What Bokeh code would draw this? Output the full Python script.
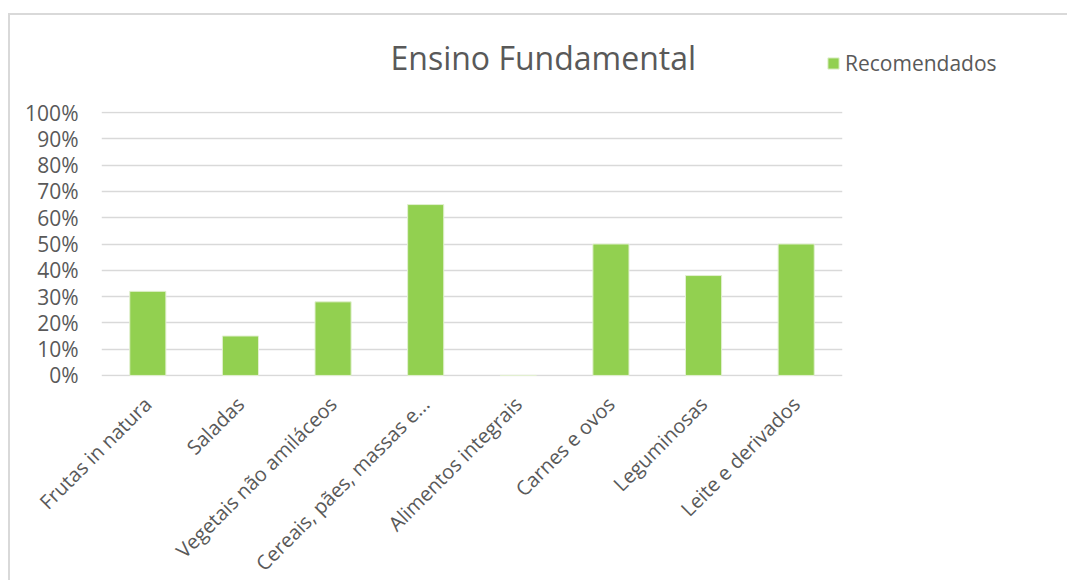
from math import pi
from bokeh.plotting import figure
from bokeh.models import (Range1d, FixedTicker, NumeralTickFormatter, Legend,
                          LegendItem, ColumnDataSource)
from bokeh.embed import file_html
from bokeh.resources import INLINE

categories = ["Frutas in natura", "Saladas", "Vegetais não amiláceos",
              "Cereais, pães, massas e...", "Alimentos integrais", "Carnes e ovos",
              "Leguminosas", "Leite e derivados"]
recomendados = [0.32, 0.15, 0.28, 0.65, 0.0, 0.50, 0.38, 0.50]
y_ticks = [0.0, 0.1, 0.2, 0.3, 0.4, 0.5, 0.6, 0.7, 0.8, 0.9, 1.0]
title_text = "Ensino Fundamental"
series_name = "Recomendados"

GREEN = "#92D050"
TEXT = "#595959"
GRID = "#D9D9D9"
FONT = "Open Sans"

src = ColumnDataSource(dict(cat=categories, val=recomendados))

p = figure(frame_width=741, frame_height=265, x_range=categories,
           y_range=Range1d(-0.004, 1.004), output_backend="svg",
           toolbar_location=None, min_border_left=101, min_border_right=217,
           min_border_top=111, min_border_bottom=196)
p.outline_line_color = None
p.background_fill_color = "white"
p.border_fill_color = None
p.styles = {
    "background-color": "white",
    "box-shadow": ("inset 0 13px 0 0 white, inset 8px 0 0 0 white, "
                   "inset 0 15px 0 0 #D9D9D9, inset 10px 0 0 0 #D9D9D9"),
}

r = p.vbar(x="cat", top="val", width=0.39, source=src, fill_color=GREEN,
           line_color="#E2F0D0", line_width=1)

p.xgrid.grid_line_color = None
p.ygrid.grid_line_color = GRID
p.ygrid.grid_line_width = 1.5
p.ygrid.ticker = FixedTicker(ticks=y_ticks)

p.yaxis.ticker = FixedTicker(ticks=y_ticks)
p.yaxis.formatter = NumeralTickFormatter(format="0%")
p.yaxis.axis_line_color = None
p.yaxis.major_tick_line_color = None
p.yaxis.minor_tick_line_color = None
p.yaxis.major_tick_out = 0
p.yaxis.major_label_text_font = FONT
p.yaxis.major_label_text_font_size = "21px"
p.yaxis.major_label_text_color = TEXT
p.yaxis.major_label_standoff = 23

p.xaxis.axis_line_color = None
p.xaxis.major_tick_line_color = None
p.xaxis.major_tick_out = 0
p.xaxis.major_label_orientation = pi / 4
p.xaxis.major_label_text_font = FONT
p.xaxis.major_label_text_font_size = "20px"
p.xaxis.major_label_text_color = TEXT
p.xaxis.major_label_standoff = 24

p.title.text = title_text
p.title.align = "left"
p.title.offset = 289
p.title.standoff = 66
p.title.text_font = FONT
p.title.text_font_size = "32px"
p.title.text_font_style = "normal"
p.title.text_color = TEXT

legend = Legend(items=[LegendItem(label=series_name, renderers=[r])],
                location=(-16, 299), orientation="vertical",
                label_text_font=FONT, label_text_font_size="21px",
                label_text_color=TEXT, glyph_width=14, glyph_height=14,
                padding=0, margin=0, spacing=0, label_standoff=5,
                border_line_alpha=0, background_fill_alpha=0)
p.add_layout(legend, "right")

open("out.html", "w").write(file_html(p, INLINE))
